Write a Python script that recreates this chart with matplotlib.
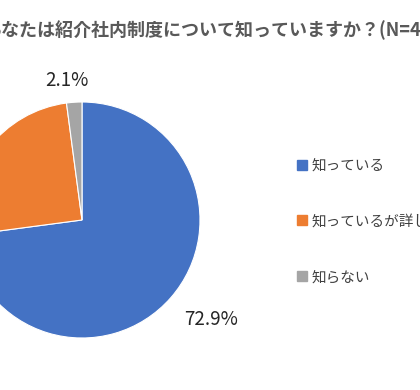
import matplotlib.pyplot as plt
import numpy as np
from matplotlib.lines import Line2D

plt.rcParams['font.family'] = ['Noto Sans CJK JP', 'DejaVu Sans']

# data
title = "あなたは紹介社内制度について知っていますか？(N=48)"
labels = ["知っている", "知っているが詳しくは知らない", "知らない"]
values = [72.9, 25.0, 2.1]
colors = ["#4472C4", "#ED7D31", "#A5A5A5"]

# label distance (in radii) and small angle shift per slice, like Excel's outside-end labels
label_dist = [1.38, 1.25, 1.19]
label_shift = [3.5, 0.0, 2.4]

W, H = 420, 390
fig = plt.figure(figsize=(W / 100, H / 100), dpi=100)

# pie: centre (82, 220) px from top-left, radius 118 px
cx, cy, r = 82, 220, 118
ax = fig.add_axes([(cx - r) / W, (H - cy - r) / H, 2 * r / W, 2 * r / H])
wedges, _ = ax.pie(values, colors=colors, startangle=90, counterclock=False,
                   wedgeprops=dict(edgecolor="white", linewidth=0.8))
ax.set_xlim(-1, 1)
ax.set_ylim(-1, 1)
ax.set_aspect("equal")
ax.axis("off")

for w, v, d, s in zip(wedges, values, label_dist, label_shift):
    ang = np.deg2rad((w.theta1 + w.theta2) / 2 + s)
    ax.text(d * np.cos(ang), d * np.sin(ang), f"{v:.1f}%", ha="center", va="center",
            fontsize=13.5, color="#262626", clip_on=False)

# title, cut off at both figure edges as in the original crop
fig.text(-17 / W, 1 - 30 / H, title, ha="left", va="center", fontsize=13,
         fontweight="bold", color="#595959")

handles = [Line2D([], [], marker="s", linestyle="", color=c, markersize=7) for c in colors]
fig.legend(handles, labels, loc="upper left", bbox_to_anchor=(295 / W, 1 - 159 / H),
           frameon=False, fontsize=10.5, labelcolor="#404040", handlelength=0.9,
           handletextpad=0.25, labelspacing=2.85, borderpad=0, borderaxespad=0)

fig.savefig("out.png", dpi=100, facecolor="white")
